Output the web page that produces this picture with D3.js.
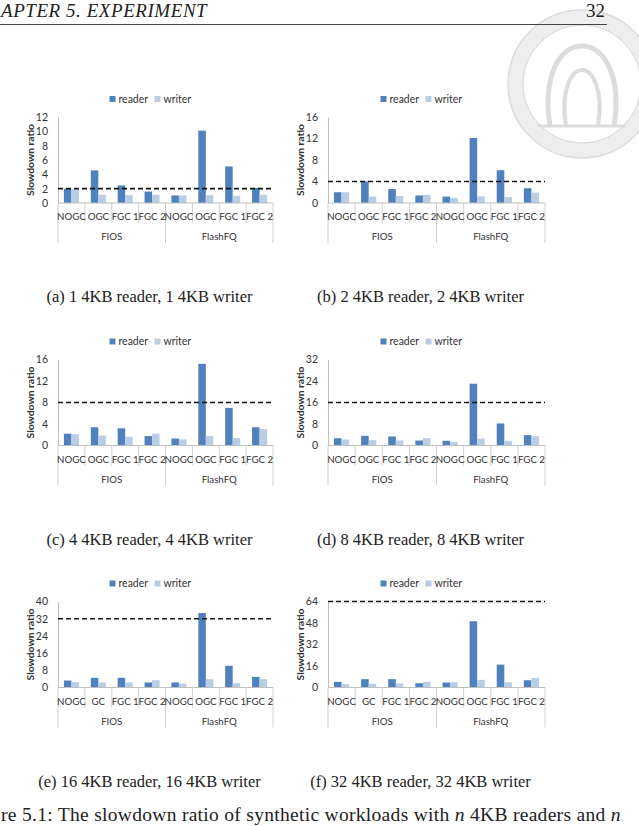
<!DOCTYPE html>
<html>
<head>
<meta charset="utf-8">
<script src="https://cdn.jsdelivr.net/npm/d3@7"></script>
<style>
  body { margin: 0; background: #fff; }
  svg { display: block; }
</style>
</head>
<body>
<div id="page"></div>
<script>
// categories of every panel (FIOS then FlashFQ)
const catsOGC = ['NOGC', 'OGC', 'FGC 1', 'FGC 2', 'NOGC', 'OGC', 'FGC 1', 'FGC 2'];
const catsGC = ['NOGC', 'GC', 'FGC 1', 'FGC 2', 'NOGC', 'OGC', 'FGC 1', 'FGC 2'];
const groupNames = ['FIOS', 'FlashFQ'];
const seriesNames = ['reader', 'writer'];

// slowdown ratios
const reader1 = [2.0, 4.55, 2.45, 1.6, 1.05, 10.1, 5.1, 2.1];
const writer1 = [1.95, 1.15, 1.1, 1.15, 1.05, 1.1, 1.0, 1.15];
const reader2 = [2.0, 4.0, 2.6, 1.4, 1.2, 12.1, 6.1, 2.75];
const writer2 = [2.0, 1.2, 1.3, 1.5, 0.95, 1.25, 1.1, 1.95];
const reader4 = [2.2, 3.4, 3.2, 1.75, 1.3, 15.2, 7.0, 3.4];
const writer4 = [2.1, 1.85, 1.6, 2.2, 1.15, 1.75, 1.4, 3.05];
const reader8 = [2.7, 3.6, 3.35, 1.85, 1.75, 23.0, 8.2, 3.85];
const writer8 = [2.2, 2.0, 1.85, 2.7, 1.35, 2.6, 1.75, 3.45];
const reader16 = [3.25, 4.5, 4.5, 2.35, 2.35, 34.6, 10.1, 4.95];
const writer16 = [2.5, 2.35, 2.35, 3.4, 1.85, 3.9, 2.0, 3.9];
const reader32 = [4.2, 6.2, 6.2, 3.2, 3.7, 49.3, 17.0, 5.4];
const writer32 = [2.5, 2.7, 3.0, 4.2, 3.9, 5.7, 3.9, 7.1];

// y axis of each panel and the dashed reference line
const yMax = [12, 16, 16, 32, 40, 64];
const yStep = [2, 4, 4, 8, 8, 16];
const fairLine = [2, 4, 8, 16, 32, 64];

const captions = [
  '(a) 1 4KB reader, 1 4KB writer',
  '(b) 2 4KB reader, 2 4KB writer',
  '(c) 4 4KB reader, 4 4KB writer',
  '(d) 8 4KB reader, 8 4KB writer',
  '(e) 16 4KB reader, 16 4KB writer',
  '(f) 32 4KB reader, 32 4KB writer'
];

const readers = [reader1, reader2, reader4, reader8, reader16, reader32];
const writers = [writer1, writer2, writer4, writer8, writer16, writer32];
const cats = [catsOGC, catsOGC, catsOGC, catsOGC, catsGC, catsGC];

let width = 639,
    height = 826;

let color = d3.scaleOrdinal().domain(seriesNames).range(['#4f81bd', '#b9cde5']);

let chartFont = '9.7px Lato, sans-serif';
let textColor = '#333';

let svg = d3.select('#page').append('svg')
  .attr('width', width)
  .attr('height', height);

// faint university seal in the corner of the scanned page
let seal = svg.append('g').attr('transform', 'translate(582,84)')
  .style('fill', 'none').style('stroke', '#dcdcdc');
seal.append('circle').attr('r', 67).style('stroke', '#eeeeee').style('stroke-width', 14);
seal.append('circle').attr('r', 74).style('stroke-width', 1.5);
seal.append('circle').attr('r', 59).style('stroke-width', 1.5);
seal.append('path')
  .attr('d', 'M-32,42 C-40,-8 -22,-38 0,-38 C22,-38 40,-8 32,42')
  .style('stroke-width', 5);
seal.append('path')
  .attr('d', 'M-16,42 C-22,5 -10,-14 0,-14 C10,-14 22,5 16,42')
  .style('stroke-width', 4);
seal.append('path')
  .attr('d', 'M-44,42 L44,42')
  .style('stroke-width', 3);

// page header (the scan cuts the start of the running head)
svg.append('text')
  .attr('x', 1).attr('y', 17)
  .style('font', 'italic 19px "Liberation Serif", serif')
  .style('letter-spacing', '0.55px')
  .style('fill', '#222')
  .text('APTER 5.  EXPERIMENT');
svg.append('text')
  .attr('x', 605).attr('y', 17)
  .attr('text-anchor', 'end')
  .style('font', '19px "Liberation Serif", serif')
  .style('fill', '#222')
  .text('32');
svg.append('line')
  .attr('x1', 0).attr('x2', 607)
  .attr('y1', 24.5).attr('y2', 24.5)
  .style('stroke', '#444').style('stroke-width', 1);

const colX = [[58, 273], [328, 545]];
const rowZero = [203, 445.5, 687.5];
const plotH = 86;

readers.forEach(function(reader, i) {
  let writer = writers[i];
  let [x0, x1] = colX[i % 2];
  let zero = rowZero[Math.floor(i / 2)];
  let top = zero - plotH;
  let mid = (x0 + x1) / 2;

  let g = svg.append('g').classed('panel', true);

  let x = d3.scaleBand()
    .domain(d3.range(8))
    .range([x0, x1]);

  let xs = d3.scaleBand()
    .domain(seriesNames)
    .range([0, x.bandwidth()])
    .paddingInner(0)
    .paddingOuter(0.79);

  let y = d3.scaleLinear()
    .domain([0, yMax[i]])
    .range([zero, top]);

  // y axis
  let yAxis = d3.axisLeft(y)
    .tickValues(d3.range(0, yMax[i] + 0.01, yStep[i]))
    .tickSize(0)
    .tickSizeOuter(0)
    .tickPadding(10);

  let ya = g.append('g')
    .attr('transform', 'translate(' + x0 + ',0)')
    .call(yAxis);
  ya.select('.domain').style('stroke', '#bfbfbf');
  ya.selectAll('text')
    .style('font', '10.5px Lato, sans-serif')
    .style('fill', textColor);

  g.append('text')
    .attr('transform', 'translate(' + (x0 - 28) + ',' + (top + plotH / 2) + ') rotate(-90)')
    .attr('text-anchor', 'middle')
    .attr('dy', '0.35em')
    .style('font', 'bold 10.3px Lato, sans-serif')
    .style('fill', textColor)
    .text('Slowdown ratio');

  // bars
  let rows = d3.range(8).map(function(k) {
    return { k: k, reader: reader[k], writer: writer[k] };
  });

  g.selectAll('.cat')
    .data(rows)
    .enter().append('g')
      .attr('transform', function(d) { return 'translate(' + x(d.k) + ',0)'; })
    .selectAll('rect')
    .data(function(d) { return seriesNames.map(function(s) { return { s: s, v: d[s] }; }); })
    .enter().append('rect')
      .attr('x', function(d) { return xs(d.s); })
      .attr('width', xs.bandwidth())
      .attr('y', function(d) { return y(d.v); })
      .attr('height', function(d) { return zero - y(d.v); })
      .style('fill', function(d) { return color(d.s); });

  // category axis with two levels
  g.append('line')
    .attr('x1', x0).attr('x2', x1)
    .attr('y1', zero).attr('y2', zero)
    .style('stroke', '#bfbfbf');

  g.selectAll('.sep')
    .data(d3.range(9))
    .enter().append('line')
      .attr('x1', function(k) { return k < 8 ? x(k) : x1; })
      .attr('x2', function(k) { return k < 8 ? x(k) : x1; })
      .attr('y1', zero)
      .attr('y2', function(k) { return k % 4 === 0 ? zero + 40 : zero + 20; })
      .style('stroke', '#d0d0d0');

  g.selectAll('.cat-label')
    .data(cats[i])
    .enter().append('text')
      .attr('x', function(d, k) { return x(k) + x.bandwidth() / 2; })
      .attr('y', zero + 14)
      .attr('dy', '0.35em')
      .attr('text-anchor', 'middle')
      .style('font', chartFont)
      .style('fill', textColor)
      .text(function(d) { return d; });

  g.selectAll('.group-label')
    .data(groupNames)
    .enter().append('text')
      .attr('x', function(d, k) { return x(k * 4) + x.bandwidth() * 2; })
      .attr('y', zero + 34)
      .attr('dy', '0.35em')
      .attr('text-anchor', 'middle')
      .style('font', chartFont)
      .style('fill', textColor)
      .text(function(d) { return d; });

  // dashed fair-share line
  g.append('line')
    .attr('x1', x0).attr('x2', x1)
    .attr('y1', y(fairLine[i])).attr('y2', y(fairLine[i]))
    .style('stroke', '#111')
    .style('stroke-width', 1.6)
    .style('stroke-dasharray', '5,3');

  // legend
  let lg = g.append('g')
    .attr('transform', 'translate(' + (mid - 56) + ',' + (zero - 104) + ')');
  let offsets = [0, 45];
  seriesNames.forEach(function(s, k) {
    lg.append('rect')
      .attr('x', offsets[k]).attr('y', -3)
      .attr('width', 6).attr('height', 6)
      .style('fill', color(s));
    lg.append('text')
      .attr('x', offsets[k] + 9).attr('y', 0)
      .attr('dy', '0.35em')
      .style('font', '10.5px Lato, sans-serif')
      .style('fill', textColor)
      .text(s);
  });

  // sub-figure caption
  g.append('text')
    .attr('x', mid - 16)
    .attr('y', zero + 99)
    .attr('text-anchor', 'middle')
    .style('font', '16.5px "Liberation Serif", serif')
    .style('fill', '#222')
    .text(captions[i]);
});

// figure caption (the scan cuts the start of the line)
let fc = svg.append('text')
  .attr('x', 1).attr('y', 821)
  .style('font', '19.5px "Liberation Serif", serif')
  .style('letter-spacing', '0.3px')
  .style('fill', '#222');
fc.append('tspan').text('re 5.1:  The slowdown ratio of synthetic workloads with ');
fc.append('tspan').style('font-style', 'italic').text('n');
fc.append('tspan').text(' 4KB readers and ');
fc.append('tspan').style('font-style', 'italic').text('n');
</script>
</body>
</html>
